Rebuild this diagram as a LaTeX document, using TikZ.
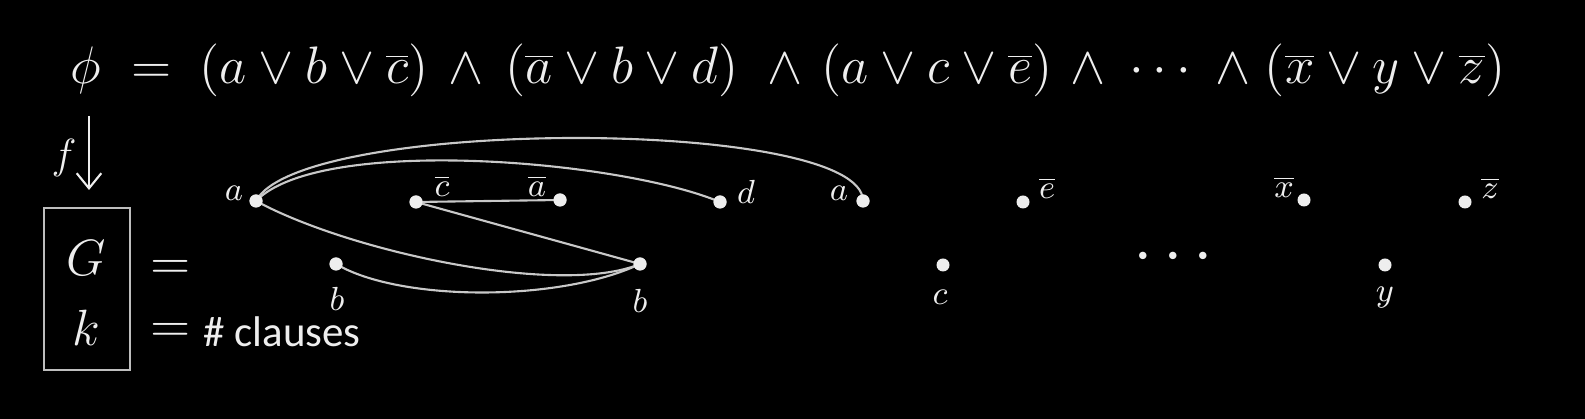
\RequirePackage{fix-cm}
\documentclass[tikz,border=0pt]{standalone}
\usepackage{fontspec}
\newfontfamily\clsfont{Carlito}
\usetikzlibrary{arrows.meta}
\definecolor{ink}{RGB}{238,238,238}
\definecolor{wire}{RGB}{200,200,200}
\definecolor{frame}{RGB}{190,190,190}
\begin{document}
\begin{tikzpicture}[x=0.01cm,y=-0.01cm,
  vtx/.style={circle,fill=ink,inner sep=0pt,minimum size=0.13cm},
  wedge/.style={draw=wire,line width=0.6pt},
  formula/.style={text=ink,inner sep=0pt,font=\fontsize{15}{18}\selectfont},
  lbl/.style={text=ink,inner sep=0pt,font=\fontsize{9.5}{11}\selectfont},
  big/.style={text=ink,inner sep=0pt,font=\fontsize{14.5}{17}\selectfont}]
\fill[black] (0,0) rectangle (1585,419);
\useasboundingbox (0,0) rectangle (1585,419);
% formula
\node[formula,anchor=base] (phi) at (86,84) {$\phi$};
\node[formula,anchor=base] (eq) at (152,84) {$=$};
\node[formula,anchor=base] (c1) at (314,84) {$(a\vee b\vee \overline{c})$};
\node[formula,anchor=base] (w1) at (466,84) {$\wedge$};
\node[formula,anchor=base] (c2) at (622,84) {$(\overline{a}\vee b\vee d)$};
\node[formula,anchor=base] (w2) at (785,84) {$\wedge$};
\node[formula,anchor=base] (c3) at (937,84) {$(a\vee c\vee \overline{e})$};
\node[formula,anchor=base] (w3) at (1088,84) {$\wedge$};
\node[formula,anchor=base] (dd) at (1160,84) {$\cdots$};
\node[formula,anchor=base] (w4) at (1233,84) {$\wedge$};
\node[formula,anchor=base] (c4) at (1385,84) {$(\overline{x}\vee y\vee \overline{z})$};
% f arrow
\coordinate (fs) at (89,116);
\coordinate (fe) at (89,190);
\draw[draw=ink,line width=0.6pt,-{Straight Barb[length=4.3pt,width=7pt]}] (fs) -- (fe);
\node[big,font=\fontsize{12}{14}\selectfont] (f) at (64,158) {$f$};
% box
\node[draw=frame,line width=0.5pt,minimum width=0.86cm,minimum height=1.62cm,inner sep=0pt] (box) at (87,289) {};
\node[big] (G) at (86,258) {$G$};
\node[big] (k) at (86,328) {$k$};
\node[big,font=\fontsize{15}{17}\selectfont] (e1) at (171,270) {$=$};
\node[big,font=\fontsize{15}{17}\selectfont] (e2) at (171,333) {$=$};
\node[text=ink,inner sep=0pt,anchor=base west,font=\clsfont\fontsize{12.2}{14}\selectfont] (cl) at (203,347) {\# clauses};
% vertices
\node[vtx] (a1) at (256,201) {};
\node[vtx] (b1) at (336,264) {};
\node[vtx] (cb) at (416,202) {};
\node[vtx] (ab) at (560,200) {};
\node[vtx] (b2) at (640,264) {};
\node[vtx] (d) at (720,202) {};
\node[vtx] (a2) at (863,201) {};
\node[vtx] (c) at (943,265) {};
\node[vtx] (eb) at (1023,202) {};
\node[vtx] (xb) at (1304,200) {};
\node[vtx] (y) at (1385,265) {};
\node[vtx] (zb) at (1465,202) {};
% labels
\node[lbl] (la1) at (234,193) {$a$};
\node[lbl] (lcb) at (442,186) {$\overline{c}$};
\node[lbl] (lab) at (537,186) {$\overline{a}$};
\node[lbl] (lb1) at (337,299) {$b$};
\node[lbl] (lb2) at (640,301) {$b$};
\node[lbl] (ld) at (746,192) {$d$};
\node[lbl] (la2) at (839,193) {$a$};
\node[lbl] (lc) at (940,297) {$c$};
\node[lbl] (leb) at (1047,188) {$\overline{e}$};
\node[lbl] (lxb) at (1284,187) {$\overline{x}$};
\node[lbl] (ly) at (1385,298) {$y$};
\node[lbl] (lzb) at (1490,188) {$\overline{z}$};
\node[text=ink,inner sep=0pt,font=\fontsize{20}{20}\selectfont] (dots) at (1173,258) {$\cdot$\hspace{3pt}$\cdot$\hspace{3pt}$\cdot$};
% edges
\draw[wedge] (a1.center) .. controls (300,117) and (863,117) .. (a2.center);
\draw[wedge] (a1.center) .. controls (320,135) and (620,160) .. (d.center);
\draw[wedge] (a1.center) .. controls (350,252) and (560,297) .. (b2.center);
\draw[wedge] (b1.center) .. controls (400,302) and (560,302) .. (b2.center);
\draw[wedge] (cb.center) -- (ab.center);
\draw[wedge] (cb.center) -- (b2.center);
% redraw vertices on top
\foreach \v in {a1,b1,cb,ab,b2,d,a2}{\fill[ink] (\v) circle (0.065cm);}
\end{tikzpicture}
\end{document}
